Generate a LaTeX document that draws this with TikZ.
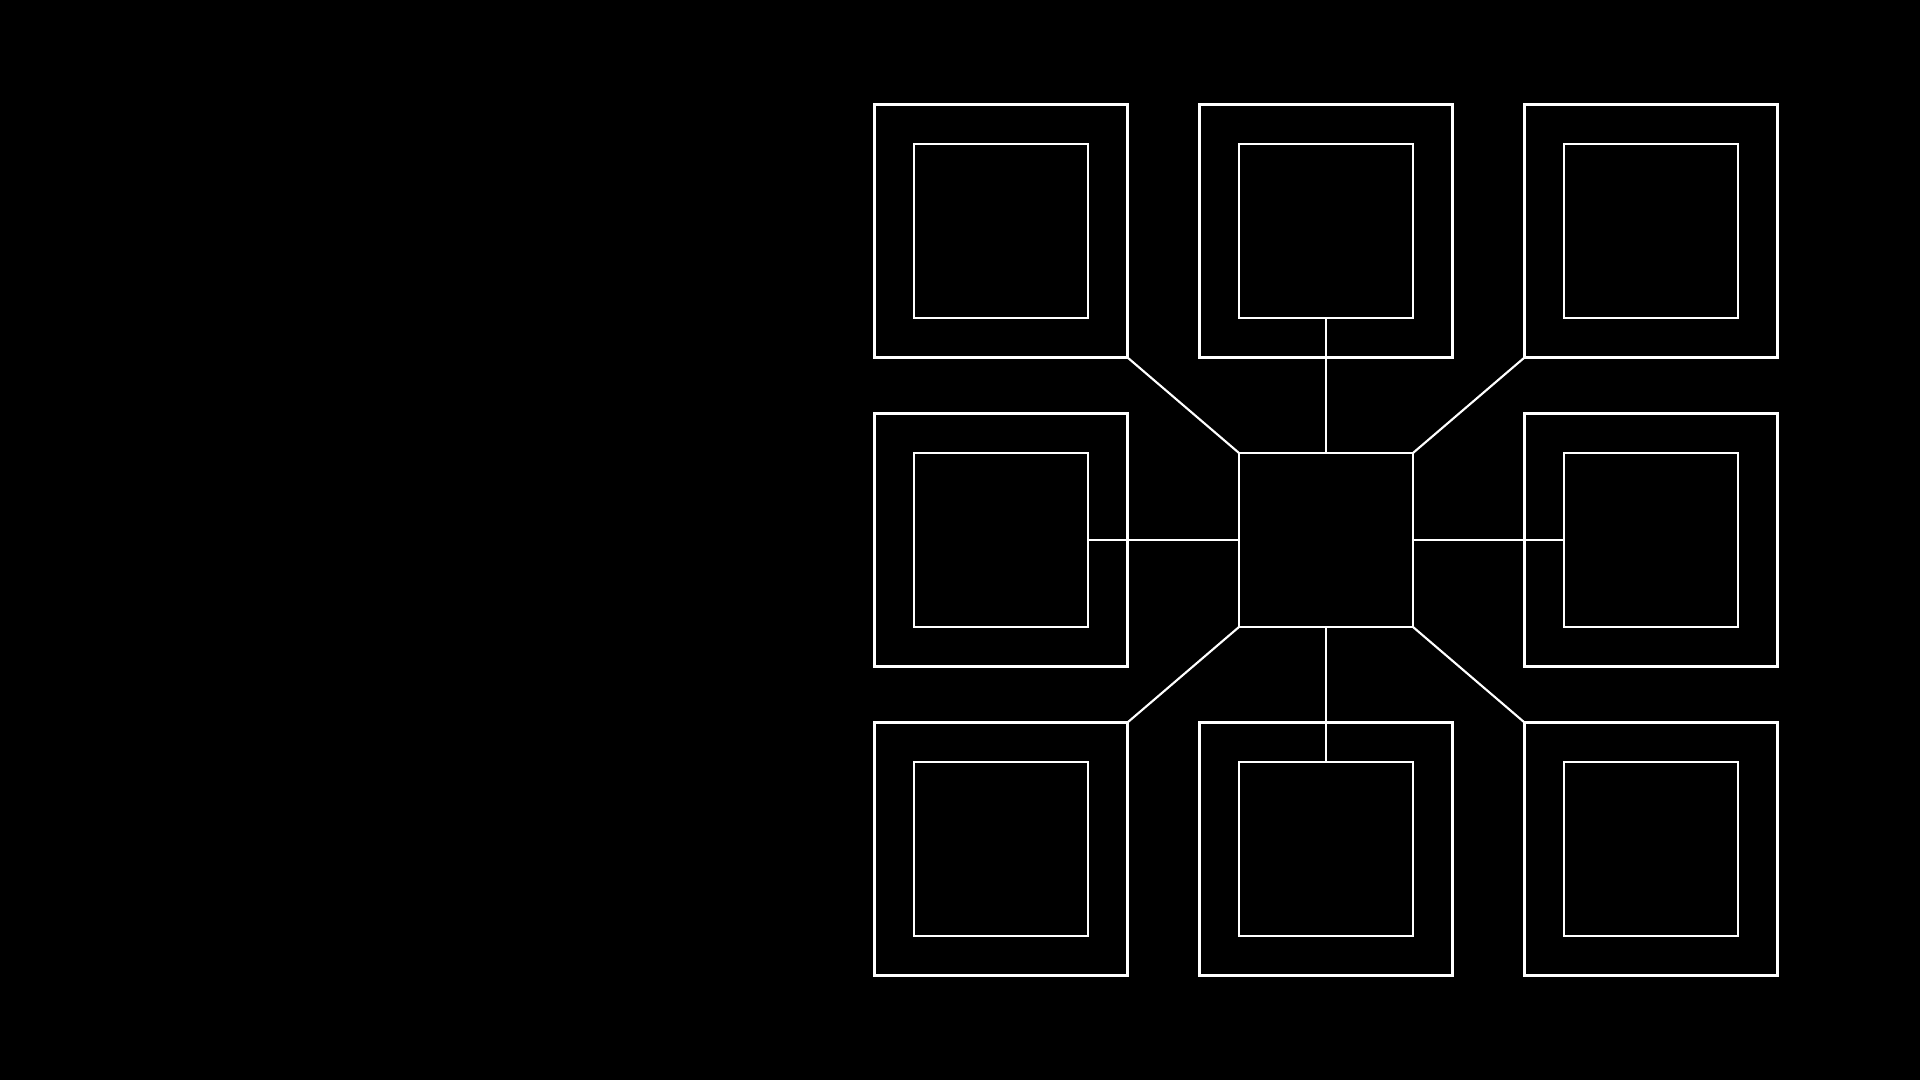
\documentclass[tikz,border=0pt]{standalone}
\begin{document}
\begin{tikzpicture}[x=0.01cm,y=-0.01cm]
  \definecolor{gline}{HTML}{FFFFFF}
  \tikzset{
    outerbox/.style={draw=gline,line width=0.85pt,minimum size=2.53cm,inner sep=0pt,outer sep=0pt},
    innerbox/.style={draw=gline,line width=0.6pt,minimum size=1.74cm,inner sep=0pt,outer sep=0pt},
    link/.style={gline,line width=0.6pt}
  }
  \fill[black] (0,0) rectangle (1920,1080);
  \foreach \n/\x/\y in {
    nw/1001/231, n/1326/231, ne/1651/231,
    w/1001/540, e/1651/540,
    sw/1001/849, s/1326/849, se/1651/849
  }{
    \node[outerbox] (outer-\n) at (\x,\y) {};
    \node[innerbox] (inner-\n) at (\x,\y) {};
  }
  \node[innerbox] (hub) at (1326,540) {};
  % straight links
  \draw[link] (hub.north) -- (inner-n.south);
  \draw[link] (hub.south) -- (inner-s.north);
  \draw[link] (hub.west) -- (inner-w.east);
  \draw[link] (hub.east) -- (inner-e.west);
  % diagonal links
  \draw[link] (hub.north west) -- (outer-nw.south east);
  \draw[link] (hub.north east) -- (outer-ne.south west);
  \draw[link] (hub.south west) -- (outer-sw.north east);
  \draw[link] (hub.south east) -- (outer-se.north west);
  \path[use as bounding box] (0,0) rectangle (1920,1080);
\end{tikzpicture}
\end{document}
